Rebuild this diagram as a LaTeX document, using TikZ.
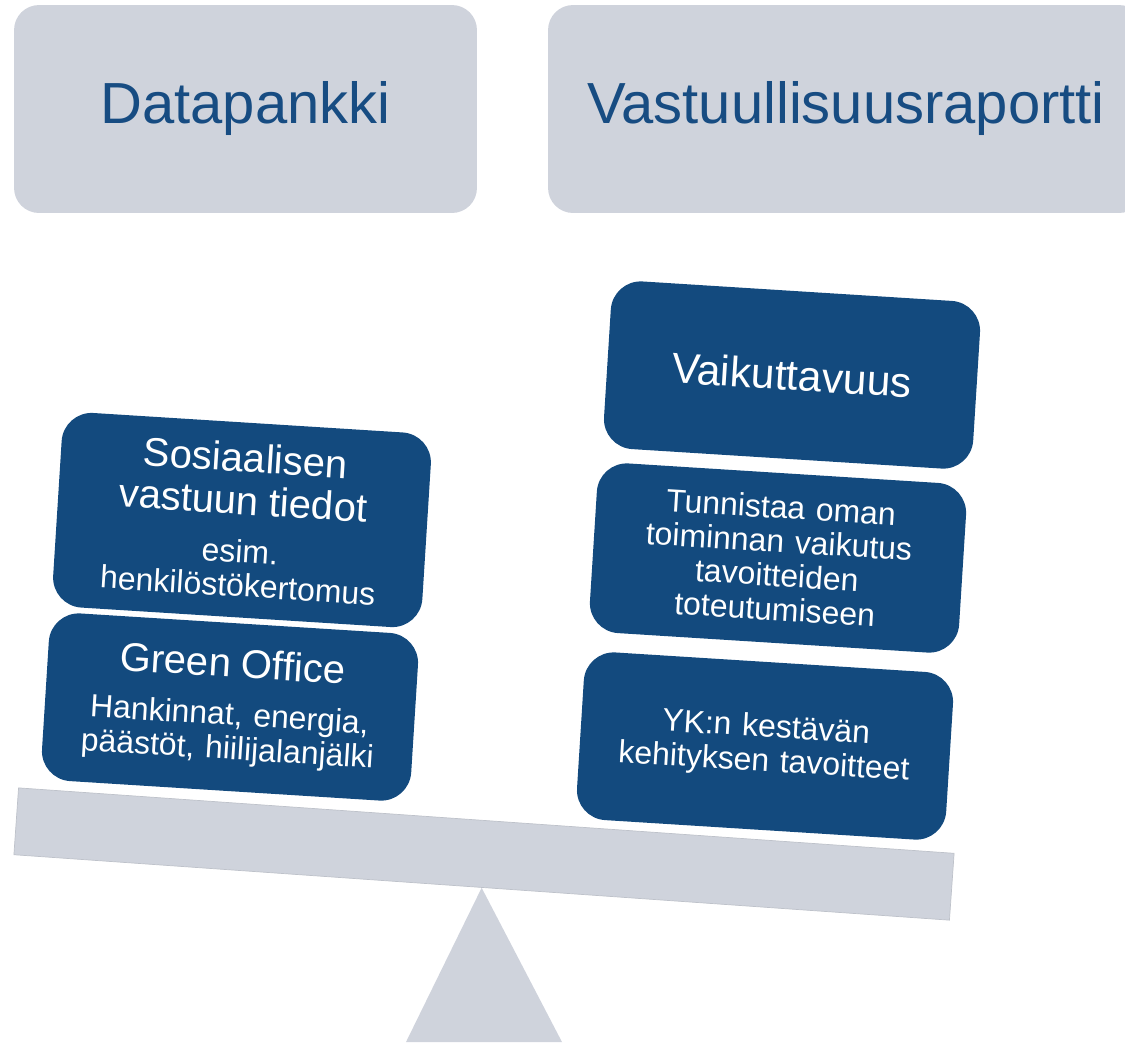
\documentclass[tikz,border=0pt]{standalone}
\usepackage{fontspec}
\setmainfont{Liberation Sans}
\usepackage{xcolor}
\definecolor{navy}{HTML}{134A7E}
\definecolor{steel}{HTML}{CFD3DC}
\definecolor{inkblue}{HTML}{174C82}
\newcommand{\headtxt}{\fontsize{33}{36}\selectfont}
\newcommand{\bigtxt}{\fontsize{22.8}{24.2}\selectfont}
\newcommand{\smalltxt}{\fontsize{18.2}{19.4}\selectfont}

\begin{document}
\begin{tikzpicture}[x=0.02cm, y=-0.02cm,
        head/.style={rectangle, rounded corners=0.5cm, fill=steel, text=inkblue, font=\headtxt, minimum height=4.16cm, inner sep=0pt},
        block/.style={rectangle, rounded corners=0.6cm, fill=navy, text=white, font=\smalltxt, rotate=-3.6, minimum width=7.4cm, text width=6.6cm, align=center, inner sep=0pt},
        beam/.style={rectangle, fill=steel, draw=steel!92!black, line width=0.4pt, rotate=-4, minimum width=18.76cm, minimum height=1.34cm, inner sep=0pt}]
            \useasboundingbox (0,0) rectangle (1125,1042);
            \clip (0,0) rectangle (1125,1042);

            \node [head, minimum width=9.26cm] (bank) at (245.5,109) {Datapankki};
            \node [head, minimum width=11.92cm] (report) at (846,109) {Vastuullisuusraportti};

            \node [beam] (beam) at (484,854) {};
            \fill [steel] (beam.south) -- (406,1042) -- (562,1042) -- cycle;

            \node [block, minimum height=3.9cm] (social) at (242,520) {{\bigtxt Sosiaalisen\\vastuun tiedot\par}\vspace{8pt}{esim.\\henkilöstökertomus\par}};
            \node [block, minimum height=3.36cm] (office) at (230,707) {{\bigtxt Green Office\par}\vspace{8pt}{Hankinnat, energia,\\päästöt, hiilijalanjälki\par}};

            \node [block, minimum height=3.36cm, font=\fontsize{24.2}{26}\selectfont] (impact) at (792,375) {Vaikuttavuus};
            \node [block, minimum height=3.4cm] (identify) at (778,558) {Tunnistaa oman\\toiminnan vaikutus\\tavoitteiden\\toteutumiseen};
            \node [block, minimum height=3.36cm] (goals) at (765,746) {YK:n kestävän\\kehityksen tavoitteet};
        \end{tikzpicture}
\end{document}
